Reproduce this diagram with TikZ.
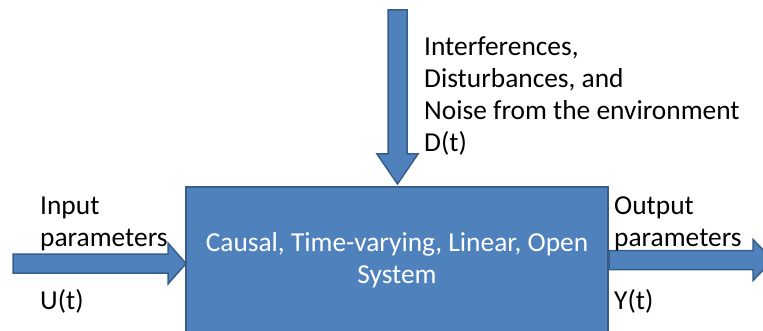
\documentclass[tikz,border=0pt]{standalone}
\usepackage{fontspec}
\setmainfont{Carlito}
\usetikzlibrary{backgrounds}
\definecolor{sysfill}{HTML}{4F81BD}
\definecolor{sysline}{HTML}{385D8A}
\tikzset{
    sysbox/.style={draw=sysline,fill=sysfill,line width=2pt,text=white,align=center,
        minimum width=422pt,minimum height=146pt,inner sep=0pt,
        font=\fontsize{27.4}{32}\selectfont},
    arrowbody/.style={draw=sysline,fill=sysfill,line width=1.5pt,line join=miter},
    sidelabel/.style={align=left,inner sep=0pt,anchor=base west,
        font=\fontsize{27.4}{32}\selectfont}
}
% block arrow: start, angle, length, head length
\newcommand{\blockarrow}[4]{%
    \draw[arrowbody,shift={(#1)},rotate=#2] (0,-9.5) -- ({#3-#4},-9.5) -- ({#3-#4},-20.5)
        -- (#3,0) -- ({#3-#4},20.5) -- ({#3-#4},9.5) -- (0,9.5) -- cycle;}
\begin{document}
\begin{tikzpicture}[x=1pt,y=1pt]
    \useasboundingbox (0,0) rectangle (763,-331);
    %% the system
    \node[sysbox] (sys) at (397,-260) {Causal, Time-varying, Linear, Open\\System};
    %% labels (base = last line)
    \node[sidelabel] (dlbl) at (424,-152) {Interferences,\\Disturbances, and\\Noise from the environment\\D(t)};
    \node[sidelabel] (ulbl) at (40,-246.5) {Input\\parameters};
    \node[sidelabel] (usym) at (40,-309.5) {U(t)};
    \node[sidelabel] (ylbl) at (614,-246.5) {Output\\parameters};
    \node[sidelabel] (ysym) at (614,-309.5) {Y(t)};
    %% free ends of the arrows
    \coordinate (din) at (397.5,-10);
    \coordinate (uin) at (13,-263.5);
    %% arrows
    \begin{pgfonlayer}{background}
        \blockarrow{din}{-90}{174}{30}
        \blockarrow{uin}{0}{173}{18}
        \blockarrow{sys.east}{0}{164}{20}
    \end{pgfonlayer}
\end{tikzpicture}
\end{document}
